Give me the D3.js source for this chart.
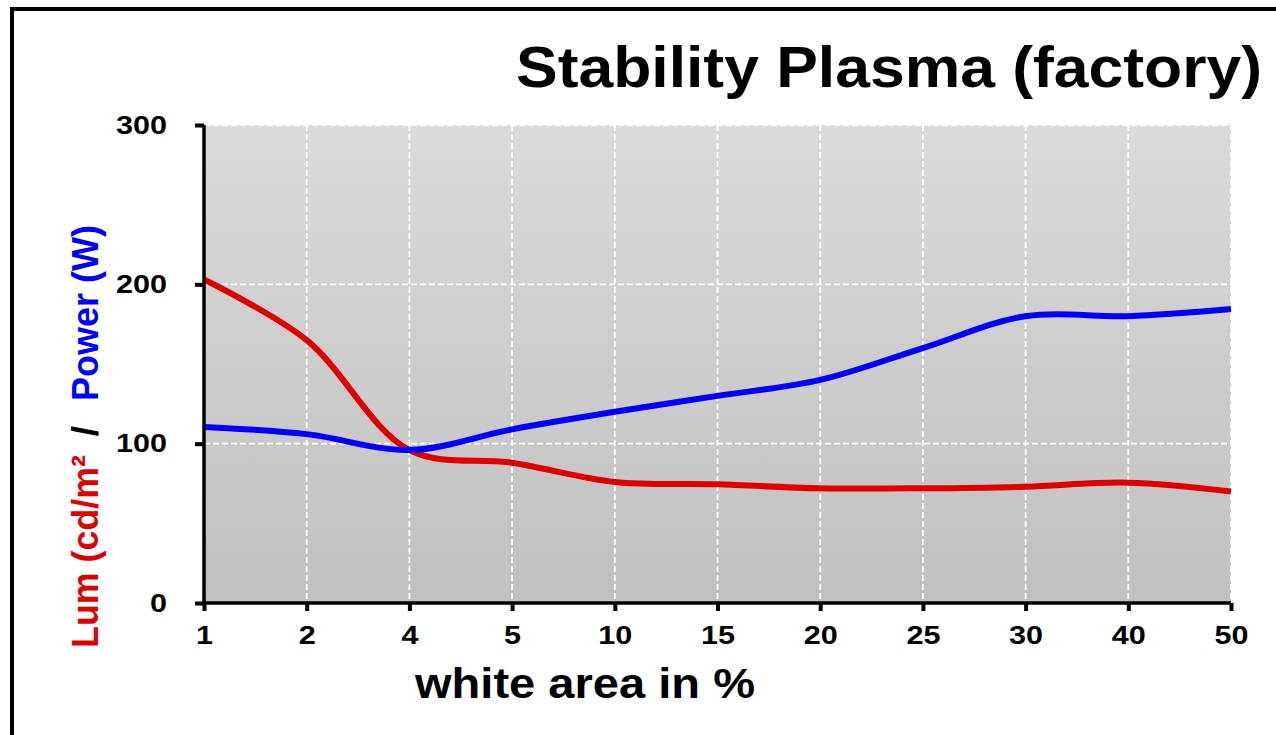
<!DOCTYPE html>
<html>
<head>
<meta charset="utf-8">
<script src="https://cdn.jsdelivr.net/npm/d3@7"></script>
<style>
  html, body { margin: 0; padding: 0; background: #fff; }
  svg { display: block; }
  text { font-family: "Liberation Sans", Arial, sans-serif; font-weight: bold; }
</style>
</head>
<body>
<svg id="chart" width="1276" height="735"></svg>
<script>
const categories = ["1", "2", "4", "5", "10", "15", "20", "25", "30", "40", "50"];
const lumValues = [203, 165, 96, 88, 76, 74.5, 72, 72, 73, 75.5, 70];
const powerValues = [110.5, 106, 96, 109, 120, 130, 140, 160, 180, 180, 184.5];
const yTicks = [0, 100, 200, 300];
const titleText = "Stability Plasma (factory)";
const xTitle = "white area in %";
const yTitleParts = ["Lum (cd/m²", "/", "Power (W)"];

const svg = d3.select("#chart");
const plot = { left: 204, right: 1231, top: 125, bottom: 603 };

const x = d3.scalePoint().domain(categories).range([plot.left, plot.right]);
const y = d3.scaleLinear().domain([0, 300]).range([plot.bottom, plot.top]);

// outer frame
svg.append("rect").attr("x", 12).attr("y", 9).attr("width", 1400).attr("height", 900)
  .attr("fill", "none").attr("stroke", "#000").attr("stroke-width", 4);

// background gradient
const defs = svg.append("defs");
const grad = defs.append("linearGradient").attr("id", "bg").attr("x1", 0).attr("y1", 0).attr("x2", 0).attr("y2", 1);
grad.append("stop").attr("offset", "0%").attr("stop-color", "#dadada");
grad.append("stop").attr("offset", "100%").attr("stop-color", "#c0c0c0");
svg.append("rect").attr("x", plot.left).attr("y", plot.top)
  .attr("width", plot.right - plot.left).attr("height", plot.bottom - plot.top)
  .attr("fill", "url(#bg)");

// grid
const grid = svg.append("g");
grid.selectAll("line.h").data(yTicks.filter(d => d > 0)).join("line")
  .attr("x1", plot.left).attr("x2", plot.right)
  .attr("y1", d => y(d)).attr("y2", d => y(d))
  .attr("stroke", "#fff").attr("stroke-width", 1.8).attr("stroke-dasharray", "6,3");
grid.selectAll("line.v").data(categories.slice(1)).join("line")
  .attr("x1", d => x(d)).attr("x2", d => x(d))
  .attr("y1", plot.top).attr("y2", plot.bottom)
  .attr("stroke", "#fff").attr("stroke-width", 1.8).attr("stroke-dasharray", "6,3");

// lines
const line = d3.line().x((d, i) => x(categories[i])).y(d => y(d)).curve(d3.curveCatmullRom.alpha(0.5));
svg.append("path").datum(lumValues).attr("d", line)
  .attr("fill", "none").attr("stroke", "#e00000").attr("stroke-width", 6).attr("stroke-linecap", "butt");
svg.append("path").datum(powerValues).attr("d", line)
  .attr("fill", "none").attr("stroke", "#0000ff").attr("stroke-width", 6).attr("stroke-linecap", "butt");

// axes
const yAxis = svg.append("g").attr("transform", `translate(${plot.left},0)`)
  .call(d3.axisLeft(y).tickValues(yTicks).tickSize(9).tickPadding(28));
const xAxis = svg.append("g").attr("transform", `translate(0,${plot.bottom})`)
  .call(d3.axisBottom(x).tickSize(8).tickPadding(15));
[yAxis, xAxis].forEach(a => {
  a.select(".domain").attr("stroke", "#000").attr("stroke-width", 3.5);
  a.selectAll(".tick line").attr("stroke", "#000").attr("stroke-width", 4);
  a.selectAll(".tick text").attr("fill", "#000").style("font-size", "26px")
    .style("font-family", "'Liberation Sans', Arial, sans-serif").style("font-weight", "bold")
    .attr("textLength", function() { return this.textContent.length * 17; })
    .attr("lengthAdjust", "spacingAndGlyphs");
});
yAxis.select(".domain").attr("d", `M0,${plot.top}V${plot.bottom}`);
xAxis.select(".domain").attr("d", `M${plot.left},0H${plot.right}`);

// title
svg.append("text").attr("x", 1262).attr("y", 87).attr("text-anchor", "end")
  .style("font-size", "57px").attr("textLength", 746).attr("lengthAdjust", "spacingAndGlyphs")
  .text(titleText);

// x title
svg.append("text").attr("x", 585).attr("y", 698).attr("text-anchor", "middle")
  .style("font-size", "42px").attr("textLength", 340).attr("lengthAdjust", "spacingAndGlyphs")
  .text(xTitle);

// y title (rotated group; local x = -screen y)
const yg = svg.append("g").attr("transform", "translate(98,0) rotate(-90)");
yg.append("text").attr("x", -648).attr("text-anchor", "start").attr("fill", "#e00000")
  .style("font-size", "37px").attr("textLength", 193).attr("lengthAdjust", "spacingAndGlyphs")
  .text(yTitleParts[0]);
yg.append("text").attr("x", -431).attr("text-anchor", "middle").attr("fill", "#000")
  .style("font-size", "37px").text(yTitleParts[1]);
yg.append("text").attr("x", -401).attr("text-anchor", "start").attr("fill", "#0000ff")
  .style("font-size", "37px").attr("textLength", 176).attr("lengthAdjust", "spacingAndGlyphs")
  .text(yTitleParts[2]);
</script>
</body>
</html>
